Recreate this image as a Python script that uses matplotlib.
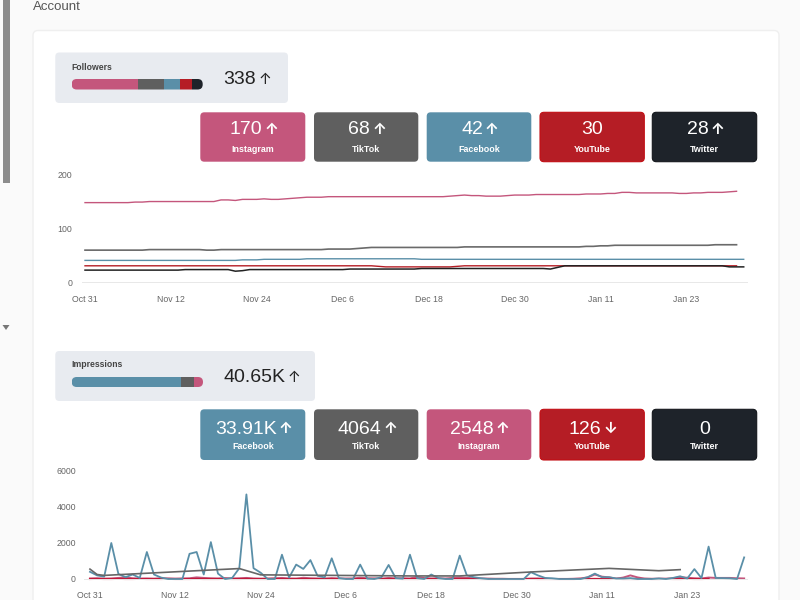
import numpy as np
import matplotlib
matplotlib.use("Agg")
import matplotlib.pyplot as plt
from matplotlib.patches import FancyBboxPatch, Rectangle, Polygon

plt.rcParams['font.family'] = ['Liberation Sans', 'DejaVu Sans']

PINK = '#C4567C'
GREY = '#5F5F5F'
BLUE = '#5A8FA8'
RED = '#B51D25'
DARK = '#1E232A'
COLORS = {'Instagram': PINK, 'TikTok': GREY, 'Facebook': BLUE, 'YouTube': RED, 'Twitter': DARK}
EDGES = {'YouTube': '#C20E14', 'Twitter': '#14171C'}

date_labels = ['Oct 31', 'Nov 12', 'Nov 24', 'Dec 6', 'Dec 18', 'Dec 30', 'Jan 11', 'Jan 23']
date_ticks = [0, 12, 24, 36, 48, 60, 72, 84]

# Followers summary
follower_names = ['Instagram', 'TikTok', 'Facebook', 'YouTube', 'Twitter']
follower_values = [170, 68, 42, 30, 28]
follower_labels = ['170', '68', '42', '30', '28']
follower_arrows = ['↑', '↑', '↑', '', '↑']

# Impressions summary
impression_names = ['Facebook', 'TikTok', 'Instagram', 'YouTube', 'Twitter']
impression_values = [33910, 4064, 2548, 126, 0]
impression_labels = ['33.91K', '4064', '2548', '126', '0']
impression_arrows = ['↑', '↑', '↑', '↓', '']

# Followers per day
f_instagram = [147, 147, 147, 147, 147, 147, 147, 148, 148, 149,
               149, 149, 149, 149, 149, 149, 149, 149, 149, 152,
               152, 151, 153, 153, 153, 154, 153, 153, 154, 155,
               156, 157, 157, 157, 158, 158, 158, 158, 158, 158,
               158, 158, 158, 158, 158, 158, 158, 158, 158, 158,
               158, 159, 160, 161, 160, 160, 159, 159, 159, 160,
               161, 161, 161, 162, 162, 162, 162, 162, 162, 162,
               163, 163, 163, 164, 164, 166, 166, 165, 165, 165,
               165, 165, 165, 164, 164, 165, 165, 166, 166, 166,
               167, 168]
f_tiktok = [59, 59, 59, 59, 59, 59, 59, 59, 59, 60,
            60, 60, 60, 60, 60, 60, 60, 59, 59, 60,
            60, 60, 60, 60, 60, 60, 60, 60, 60, 60,
            60, 60, 60, 60, 61, 61, 61, 61, 62, 63,
            64, 64, 64, 64, 64, 64, 64, 64, 64, 64,
            64, 64, 64, 65, 65, 65, 65, 65, 65, 65,
            65, 65, 65, 65, 65, 65, 65, 65, 65, 65,
            66, 66, 67, 67, 68, 68, 68, 68, 68, 68,
            68, 68, 68, 68, 68, 68, 68, 68, 69, 69,
            69, 69]
f_facebook = [40, 40, 40, 40, 40, 40, 40, 40, 40, 40,
              40, 40, 40, 40, 40, 40, 40, 40, 40, 40,
              40, 40, 41, 41, 41, 42, 42, 42, 42, 42,
              42, 43, 43, 43, 43, 43, 43, 43, 43, 43,
              43, 43, 43, 43, 43, 43, 43, 42, 42, 42,
              42, 42, 42, 42, 42, 42, 42, 42, 42, 42,
              42, 42, 42, 42, 42, 42, 42, 42, 42, 42,
              42, 42, 42, 42, 42, 42, 42, 42, 42, 42,
              42, 42, 42, 42, 42, 42, 42, 42, 42, 42,
              42, 42, 42]
f_youtube = [30, 30, 30, 30, 30, 30, 30, 30, 30, 30,
             30, 30, 30, 30, 30, 30, 30, 30, 30, 30,
             30, 30, 30, 30, 30, 30, 30, 30, 30, 30,
             30, 30, 30, 30, 30, 30, 30, 30, 30, 30,
             30, 29, 28, 28, 28, 28, 28, 28, 28, 28,
             28, 28, 29, 30, 30, 30, 30, 30, 30, 30,
             30, 30, 30, 30, 30, 30, 30, 30, 30, 30,
             30, 30, 30, 30, 30, 30, 30, 30, 30, 30,
             30, 30, 30, 30, 30, 30, 30, 30, 30, 30,
             30, 30]
f_twitter = [22, 22, 22, 22, 22, 22, 22, 22, 22, 22,
             22, 22, 22, 22, 23, 23, 23, 23, 23, 23,
             23, 20, 21, 23, 23, 23, 23, 23, 23, 23,
             23, 23, 23, 23, 23, 23, 23, 24, 24, 24,
             24, 24, 24, 24, 24, 24, 24, 25, 25, 25,
             25, 25, 25, 25, 25, 25, 25, 25, 25, 25,
             25, 25, 25, 25, 25, 24, 27, 30, 30, 30,
             30, 30, 30, 30, 30, 30, 30, 30, 30, 30,
             30, 30, 30, 30, 30, 30, 30, 30, 30, 30,
             28, 28, 28]

# Impressions per day
i_facebook = [400, 200, 130, 2000, 280, 100, 250, 60, 1500, 250,
              80, 0, 0, 0, 1400, 1500, 250, 2050, 300, 0,
              60, 600, 4700, 600, 350, 0, 0, 1350, 80, 800,
              560, 1050, 180, 90, 1150, 50, 0, 0, 800, 20,
              0, 100, 780, 50, 20, 1350, 50, 0, 250, 50,
              0, 0, 1300, 200, 100, 40, 0, 0, 0, 0,
              0, 0, 380, 200, 60, 40, 0, 0, 0, 0,
              100, 300, 100, 100, 30, 30, 50, 0, 0, 0,
              30, 0, 60, 150, 30, 550, 50, 1800, 60, 50,
              40, 0, 1200]
i_tiktok_days = [0, 1, 2, 21, 24, 45, 52, 62, 73, 80, 83]
i_tiktok = [550, 250, 200, 580, 230, 170, 170, 390, 590, 460, 520]
i_instagram = [30, 40, 20, 30, 60, 90, 40, 20, 30, 20,
               40, 30, 20, 30, 40, 90, 60, 40, 30, 50,
               30, 40, 60, 30, 20, 30, 40, 60, 30, 20,
               70, 40, 30, 20, 50, 30, 20, 30, 70, 40,
               30, 20, 60, 30, 40, 30, 120, 50, 30, 40,
               20, 60, 90, 60, 40, 30, 20, 10, 10, 0,
               0, 0, 20, 30, 10, 0, 0, 0, 10, 30,
               90, 250, 130, 90, 20, 80, 200, 90, 20, 10,
               20, 10, 40, 100, 70, 40, 30, 80, 60, 60,
               60, 40, 30]
i_youtube = [0, 5, 0, 0, 5, 0, 0, 5, 0, 0,
             0, 5, 0, 0, 0, 5, 0, 0, 0, 5,
             0, 0, 5, 0, 0, 0, 5, 0, 0, 5,
             0, 0, 0, 5, 0, 0, 5, 0, 0, 0,
             5, 0, 0, 5, 0, 0, 0, 5, 0, 0,
             5, 0, 0, 0, 5, 0, 0, 0, 0, 0,
             0, 0, 5, 0, 0, 0, 0, 0, 0, 5,
             0, 5, 0, 0, 5, 0, 0, 0, 5, 0,
             0, 5, 0, 0, 5, 0, 0, 5]


def rounded(ax, x0, y0, x1, y1, r, face, edge='none', lw=0, z=1):
    box = FancyBboxPatch((x0, y0), x1 - x0, y1 - y0, boxstyle=f"round,pad=0,rounding_size={r}",
                         facecolor=face, edgecolor=edge, linewidth=lw, zorder=z)
    ax.add_patch(box)
    return box


def value_text(bg, x, y, label, arrow, color, center=True):
    # number plus a smaller arrow next to it, centred as one group
    t = bg.text(x, y, label, color=color, fontsize=14, ha='left', va='center', zorder=5)
    w = t.get_window_extent(fig.canvas.get_renderer()).width
    total = w + (14 if arrow else 0)
    x0 = x - total / 2 if center else x
    t.set_x(x0)
    if arrow:
        bg.text(x0 + w + 2, y - 0.5, arrow, color=color, fontsize=11, ha='left', va='center', zorder=5,
                family=['Inter', 'DejaVu Sans'], fontweight='bold' if center else 'normal')


def summary(bg, title, total, arrow, names, values, panel, bar, title_y, total_x):
    rounded(bg, panel[0], panel[1], panel[2], panel[3], 4, '#E8EBF0', z=2)
    bg.text(bar[0], title_y, title, fontsize=6.2, color='#444444', fontweight='bold', va='center', zorder=5)
    clip = rounded(bg, bar[0], bar[1], bar[2], bar[3], 5, 'none', z=3)
    start = bar[0]
    scale = (bar[2] - bar[0]) / sum(values)
    for name, v in zip(names, values):
        seg = Rectangle((start, bar[1]), v * scale, bar[3] - bar[1], facecolor=COLORS[name], edgecolor='none', zorder=3)
        bg.add_patch(seg)
        seg.set_clip_path(clip)
        start += v * scale
    value_text(bg, total_x, (bar[1] + bar[3]) / 2 - 4.5, total, arrow, '#222222', center=False)


def cards(bg, names, labels, arrows, y0, y1, value_y):
    lefts = [200.3, 314, 426.7, 540, 652.3]
    rights = [305.3, 418.3, 531.3, 644.3, 756.7]
    for name, label, arrow, x0, x1 in zip(names, labels, arrows, lefts, rights):
        edge = EDGES.get(name, 'none')
        rounded(bg, x0, y0, x1, y1, 4, COLORS[name], edge=edge, lw=0.8, z=2)
        xc = (x0 + x1) / 2
        value_text(bg, xc, value_y, label, arrow, 'white')
        bg.text(xc, y0 + 37, name, color='white', fontsize=6.4, fontweight='bold', ha='center', va='center', zorder=5)


def chart_axes(fig, left, right, top, bottom, xlim, ylim, yticks, pad):
    ax = fig.add_axes([left / 800, 1 - bottom / 600, (right - left) / 800, (bottom - top) / 600], facecolor='none')
    ax.set_xlim(*xlim)
    ax.set_ylim(*ylim)
    for s in ['top', 'left', 'right']:
        ax.spines[s].set_visible(False)
    ax.spines['bottom'].set_color('#E8E8E8')
    ax.spines['bottom'].set_linewidth(0.7)
    ax.set_xticks(date_ticks)
    ax.set_xticklabels(date_labels)
    ax.set_yticks(yticks)
    ax.tick_params(axis='x', length=0, labelsize=6.3, labelcolor='#666666', pad=9)
    ax.tick_params(axis='y', length=0, labelsize=6.3, labelcolor='#666666', pad=pad)
    return ax


fig = plt.figure(figsize=(8, 6), dpi=100, facecolor='#FAFAFA')
bg = fig.add_axes([0, 0, 1, 1])
bg.set_xlim(0, 800)
bg.set_ylim(600, 0)
bg.axis('off')

# page furniture
bg.add_patch(Rectangle((3, 0), 6.5, 183, facecolor='#8C8C8C', edgecolor='none'))
bg.add_patch(Polygon([[2.5, 325], [9.5, 325], [6, 330]], facecolor='#777777', edgecolor='none'))
bg.text(33, 7.5, 'Account', fontsize=9.5, color='#555555', va='center')
rounded(bg, 33, 30.5, 779, 640, 5, 'white', edge='#EFEFEF', lw=1)

summary(bg, 'Followers', '338', '↑', follower_names, follower_values,
        (55.3, 52.5, 288, 103), (71.7, 79, 202.7, 89.5), 67, 223.5)
cards(bg, follower_names, follower_labels, follower_arrows, 112.3, 161.7, 130)

summary(bg, 'Impressions', '40.65K', '↑', impression_names, impression_values,
        (55.3, 351, 315, 401), (71.7, 377, 203, 387), 364.5, 223.5)
cards(bg, impression_names, impression_labels, impression_arrows, 409.3, 460, 429)

# followers chart
ax1 = chart_axes(fig, 82, 747, 174, 282, (-0.42, 92.46), (0, 200), [0, 100, 200], 7.2)
ax1.plot(range(len(f_youtube)), f_youtube, color=RED, lw=1.0, zorder=2)
ax1.plot(range(len(f_twitter)), f_twitter, color='#222222', lw=1.1, zorder=3)
ax1.plot(range(len(f_instagram)), f_instagram, color=PINK, lw=1.0, zorder=3)
ax1.plot(range(len(f_tiktok)), f_tiktok, color='#6A6A6A', lw=1.2, zorder=3)
ax1.plot(range(len(f_facebook)), f_facebook, color=BLUE, lw=1.0, zorder=3)

# impressions chart
ax2 = chart_axes(fig, 84, 747, 471, 579, (-0.84, 92.4), (0, 6000), [0, 2000, 4000, 6000], 5.8)
ax2.plot(range(len(i_instagram)), i_instagram, color=PINK, lw=1.4, zorder=2, clip_on=False)
ax2.plot(range(len(i_youtube)), i_youtube, color='#C2183A', lw=1.5, zorder=2, clip_on=False)
ax2.plot(range(len(i_facebook)), i_facebook, color=BLUE, lw=1.3, zorder=3, clip_on=False)
ax2.plot(i_tiktok_days, i_tiktok, color='#666666', lw=1.2, zorder=4)

fig.savefig('out.png', dpi=100, facecolor=fig.get_facecolor())
